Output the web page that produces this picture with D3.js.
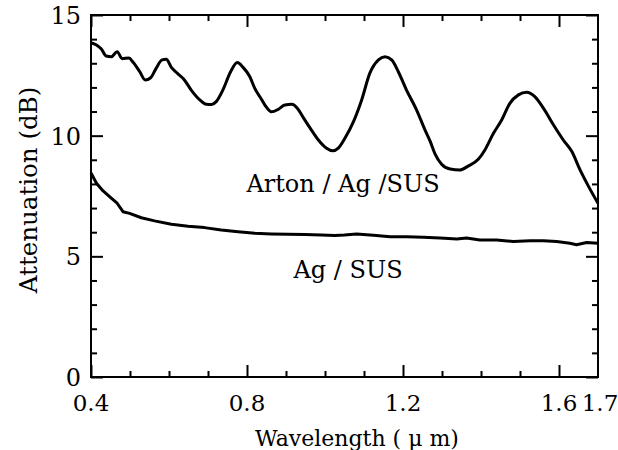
<!DOCTYPE html>
<html>
<head>
<meta charset="utf-8">
<script src="https://cdn.jsdelivr.net/npm/d3@7"></script>
<style>
  html, body { margin: 0; padding: 0; background: #fff; }
  svg { display: block; }
  text { font-family: "DejaVu Serif", serif; fill: #000; }
</style>
</head>
<body>
<div id="chart"></div>
<script>
// Arton / Ag / SUS curve (wavelength in um, attenuation in dB)
const artonWl = [0.400, 0.414, 0.426, 0.439, 0.452, 0.467, 0.480, 0.497, 0.508, 0.525,
    0.539, 0.553, 0.567, 0.582, 0.593, 0.606, 0.621, 0.638, 0.657, 0.679,
    0.696, 0.709, 0.721, 0.738, 0.758, 0.775, 0.790, 0.807, 0.820, 0.837,
    0.846, 0.863, 0.880, 0.897, 0.915, 0.929, 0.944, 0.962, 0.983, 1.004,
    1.020, 1.034, 1.051, 1.073, 1.094, 1.115, 1.137, 1.154, 1.171, 1.188,
    1.209, 1.235, 1.256, 1.270, 1.282, 1.299, 1.321, 1.346, 1.367, 1.393,
    1.410, 1.432, 1.453, 1.474, 1.496, 1.517, 1.538, 1.560, 1.586, 1.611,
    1.633, 1.654, 1.676, 1.700];
const artonDb = [13.85, 13.76, 13.60, 13.30, 13.27, 13.48, 13.19, 13.22, 13.04, 12.65,
    12.31, 12.40, 12.79, 13.14, 13.17, 12.83, 12.59, 12.34, 11.89, 11.48,
    11.30, 11.29, 11.41, 11.89, 12.65, 13.03, 12.83, 12.45, 11.96, 11.51,
    11.27, 10.99, 11.09, 11.27, 11.30, 11.14, 10.76, 10.31, 9.82, 9.48,
    9.37, 9.48, 9.89, 10.58, 11.48, 12.59, 13.14, 13.27, 13.14, 12.65,
    11.89, 11.06, 10.25, 9.75, 9.25, 8.82, 8.62, 8.58, 8.74, 9.02,
    9.41, 10.10, 10.65, 11.34, 11.69, 11.80, 11.62, 11.14, 10.44, 9.82,
    9.34, 8.58, 7.89, 7.20];

// Ag / SUS curve
const agWl = [0.400, 0.414, 0.431, 0.452, 0.467, 0.482, 0.499, 0.529, 0.563, 0.606,
    0.649, 0.691, 0.734, 0.777, 0.820, 0.862, 0.905, 0.948, 0.990, 1.025,
    1.050, 1.081, 1.124, 1.167, 1.210, 1.252, 1.295, 1.338, 1.363, 1.397,
    1.440, 1.483, 1.526, 1.560, 1.594, 1.628, 1.645, 1.671, 1.700];
const agDb = [8.45, 8.03, 7.71, 7.41, 7.20, 6.85, 6.78, 6.60, 6.47, 6.33,
    6.25, 6.19, 6.09, 6.02, 5.96, 5.93, 5.91, 5.90, 5.88, 5.86,
    5.88, 5.93, 5.87, 5.81, 5.81, 5.79, 5.76, 5.72, 5.76, 5.68,
    5.68, 5.61, 5.65, 5.65, 5.61, 5.54, 5.48, 5.57, 5.54];

// Axis ticks
const xMajor = [0.4, 0.8, 1.2, 1.6];
const xMinor = [0.5, 0.6, 0.7, 0.9, 1.0, 1.1, 1.3, 1.4, 1.5];
const xLabels = [0.4, 0.8, 1.2, 1.6, 1.7];
const yMajor = [0, 5, 10, 15];
const yMinor = [1, 2, 3, 4, 6, 7, 8, 9, 11, 12, 13, 14];

const width = 618, height = 450;
const plotL = 91, plotR = 598, plotT = 15, plotB = 377;

const svg = d3.select("#chart").append("svg")
    .attr("width", width)
    .attr("height", height);

const x = d3.scaleLinear().domain([0.4, 1.7]).range([plotL, plotR]);
const y = d3.scaleLinear().domain([0, 15]).range([plotB, plotT]);

// inward ticks on all four sides
function ticks(axisFn, vals, size, pos) {
    svg.append("g")
        .attr("transform", pos)
        .call(axisFn.tickValues(vals).tickSizeInner(-size).tickSizeOuter(0).tickFormat(""))
        .call(g => g.select(".domain").remove())
        .selectAll("line")
        .attr("stroke", "#000")
        .attr("stroke-width", 2);
}
ticks(d3.axisBottom(x), xMajor, 12, `translate(0,${plotB})`);
ticks(d3.axisBottom(x), xMinor, 6, `translate(0,${plotB})`);
ticks(d3.axisTop(x), xMajor, 12, `translate(0,${plotT})`);
ticks(d3.axisTop(x), xMinor, 6, `translate(0,${plotT})`);
ticks(d3.axisLeft(y), yMajor, 12, `translate(${plotL},0)`);
ticks(d3.axisLeft(y), yMinor, 6, `translate(${plotL},0)`);
ticks(d3.axisRight(y), yMajor, 12, `translate(${plotR},0)`);
ticks(d3.axisRight(y), yMinor, 6, `translate(${plotR},0)`);

// frame
svg.append("rect")
    .attr("x", plotL)
    .attr("y", plotT)
    .attr("width", plotR - plotL)
    .attr("height", plotB - plotT)
    .attr("fill", "none")
    .attr("stroke", "#000")
    .attr("stroke-width", 2);

// tick labels
svg.selectAll(".xl")
    .data(xLabels)
    .enter()
    .append("text")
    .attr("class", "xl")
    .attr("x", d => x(d) + (d === 1.7 ? 2 : 0))
    .attr("y", 411)
    .attr("text-anchor", "middle")
    .style("font-size", "23px")
    .text(d => d3.format(".1f")(d));

svg.selectAll(".yl")
    .data(yMajor)
    .enter()
    .append("text")
    .attr("class", "yl")
    .attr("x", 81)
    .attr("y", d => y(d) + 9)
    .attr("text-anchor", "end")
    .style("font-size", "24px")
    .text(d => d);

// axis titles
svg.append("text")
    .attr("x", 357)
    .attr("y", 446)
    .attr("text-anchor", "middle")
    .style("font-size", "22px")
    .text("Wavelength ( μ m)");

svg.append("text")
    .attr("transform", "translate(37,190) rotate(-90)")
    .attr("text-anchor", "middle")
    .style("font-size", "24.5px")
    .text("Attenuation (dB)");

// curves
const upper = artonWl.map((w, i) => ({ w: w, a: artonDb[i] }));
const lower = agWl.map((w, i) => ({ w: w, a: agDb[i] }));

svg.append("path")
    .datum(upper)
    .attr("fill", "none")
    .attr("stroke", "#000")
    .attr("stroke-width", 3)
    .attr("stroke-linejoin", "round")
    .attr("d", d3.line().x(d => x(d.w)).y(d => y(d.a)).curve(d3.curveMonotoneX));

svg.append("path")
    .datum(lower)
    .attr("fill", "none")
    .attr("stroke", "#000")
    .attr("stroke-width", 3)
    .attr("stroke-linejoin", "round")
    .attr("d", d3.line().x(d => x(d.w)).y(d => y(d.a)));

// curve labels
svg.append("text")
    .attr("x", 343)
    .attr("y", 192)
    .attr("text-anchor", "middle")
    .style("font-size", "24px")
    .text("Arton / Ag /SUS");

svg.append("text")
    .attr("x", 348)
    .attr("y", 278)
    .attr("text-anchor", "middle")
    .style("font-size", "24px")
    .text("Ag / SUS");
</script>
</body>
</html>
